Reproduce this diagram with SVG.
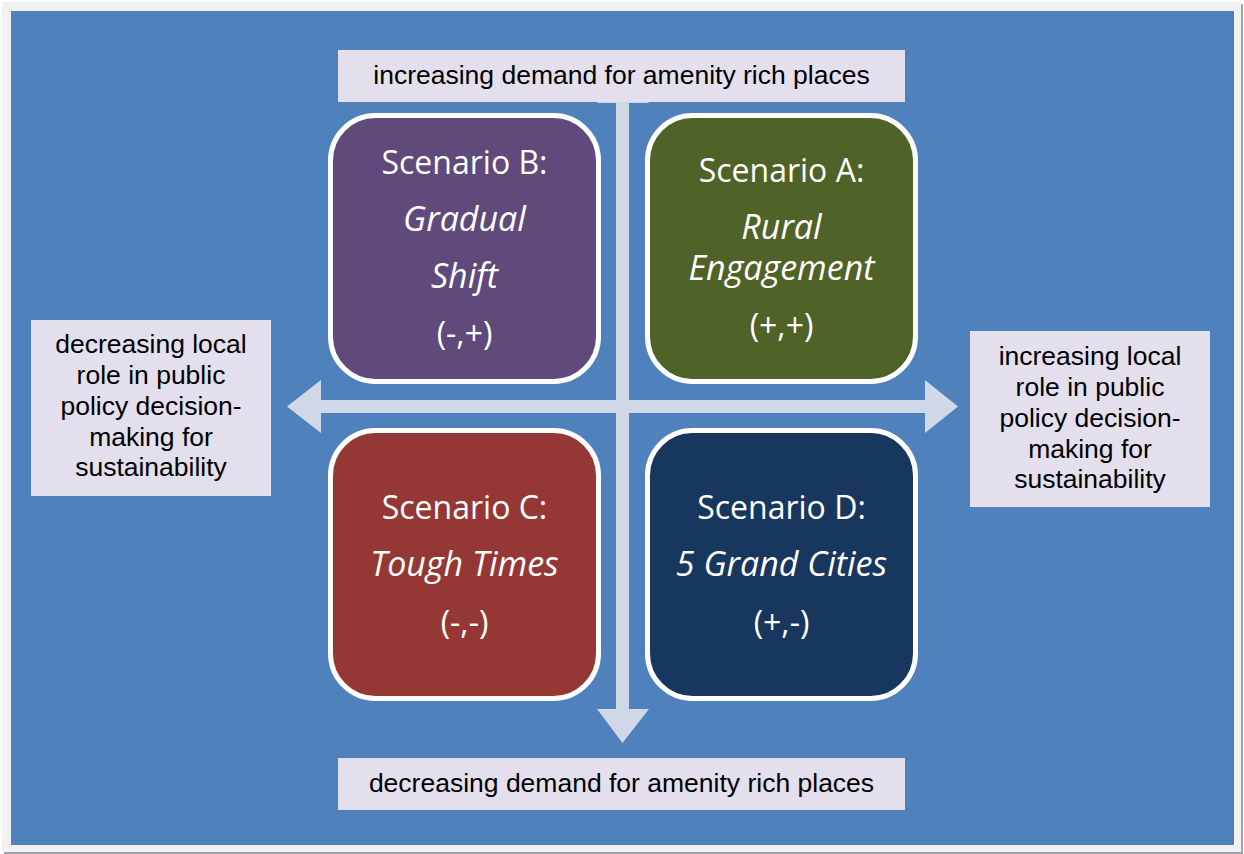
<svg xmlns="http://www.w3.org/2000/svg" width="1244" height="854" viewBox="0 0 1244 854">
<style>
.lbl{fill:#e4dfec}
.lt{font-family:"Liberation Sans",Arial,sans-serif;font-size:26.5px;fill:#000;text-anchor:middle}
.box{stroke:#fff;stroke-width:5}
.bt{font-family:"Open Sans","Noto Sans",sans-serif;font-size:32px;fill:#fff;text-anchor:middle}
.it{font-style:italic;font-size:34px}
.arr{fill:#d0d8e8}
</style>
<rect x="0" y="0" width="1244" height="854" fill="#ffffff"/>
<rect x="2" y="2" width="1240" height="850" fill="#f2f2f2"/>
<line x1="1242" y1="4" x2="1242" y2="853" stroke="#a0a4a8" stroke-width="2"/>
<line x1="4" y1="853" x2="1243" y2="853" stroke="#a0a4a8" stroke-width="2"/>
<rect x="11" y="11" width="1223" height="834" fill="#4f81bd"/>
<g id="connectors">
<polygon class="arr" points="287,406.5 321,380 321,400 925,400 925,380 958,406.5 925,433 925,413 321,413 321,433"/>
<polygon class="arr" points="622.5,69 649,103 629,103 629,709 649,709 622.5,743 597,709 616,709 616,103 597,103"/>
</g>
<g id="label-top">
<rect class="lbl" x="338" y="50" width="567" height="52"/>
<text class="lt" x="621.5" y="84">increasing demand for amenity rich places</text>
</g>
<g id="label-bottom">
<rect class="lbl" x="338" y="758" width="567" height="52"/>
<text class="lt" x="621.5" y="792">decreasing demand for amenity rich places</text>
</g>
<g id="label-left">
<rect class="lbl" x="31" y="320" width="240" height="176"/>
<text class="lt" x="151" y="353">decreasing local</text>
<text class="lt" x="151" y="384">role in public</text>
<text class="lt" x="151" y="415">policy decision-</text>
<text class="lt" x="151" y="446">making for</text>
<text class="lt" x="151" y="476">sustainability</text>
</g>
<g id="label-right">
<rect class="lbl" x="970" y="331" width="240" height="176"/>
<text class="lt" x="1090" y="365">increasing local</text>
<text class="lt" x="1090" y="396">role in public</text>
<text class="lt" x="1090" y="427">policy decision-</text>
<text class="lt" x="1090" y="458">making for</text>
<text class="lt" x="1090" y="488">sustainability</text>
</g>
<g id="scenario-b">
<rect class="box" x="330.5" y="115.5" width="268" height="266" rx="45" fill="#604a7b"/>
<text class="bt" x="464.5" y="174">Scenario B:</text>
<text class="bt it" x="464.5" y="231">Gradual</text>
<text class="bt it" x="464.5" y="288">Shift</text>
<text class="bt" x="464.5" y="345">(-,+)</text>
</g>
<g id="scenario-a">
<rect class="box" x="647.5" y="115.5" width="268" height="266" rx="45" fill="#4f6228"/>
<text class="bt" x="781.5" y="182">Scenario A:</text>
<text class="bt it" x="781.5" y="239">Rural</text>
<text class="bt it" x="781.5" y="280">Engagement</text>
<text class="bt" x="781.5" y="337">(+,+)</text>
</g>
<g id="scenario-c">
<rect class="box" x="330.5" y="430.5" width="268" height="268" rx="45" fill="#953735"/>
<text class="bt" x="464.5" y="519">Scenario C:</text>
<text class="bt it" x="464.5" y="576">Tough Times</text>
<text class="bt" x="464.5" y="634">(-,-)</text>
</g>
<g id="scenario-d">
<rect class="box" x="647.5" y="430.5" width="268" height="268" rx="45" fill="#17375e"/>
<text class="bt" x="781.5" y="519">Scenario D:</text>
<text class="bt it" x="781.5" y="576">5 Grand Cities</text>
<text class="bt" x="781.5" y="634">(+,-)</text>
</g>
</svg>
